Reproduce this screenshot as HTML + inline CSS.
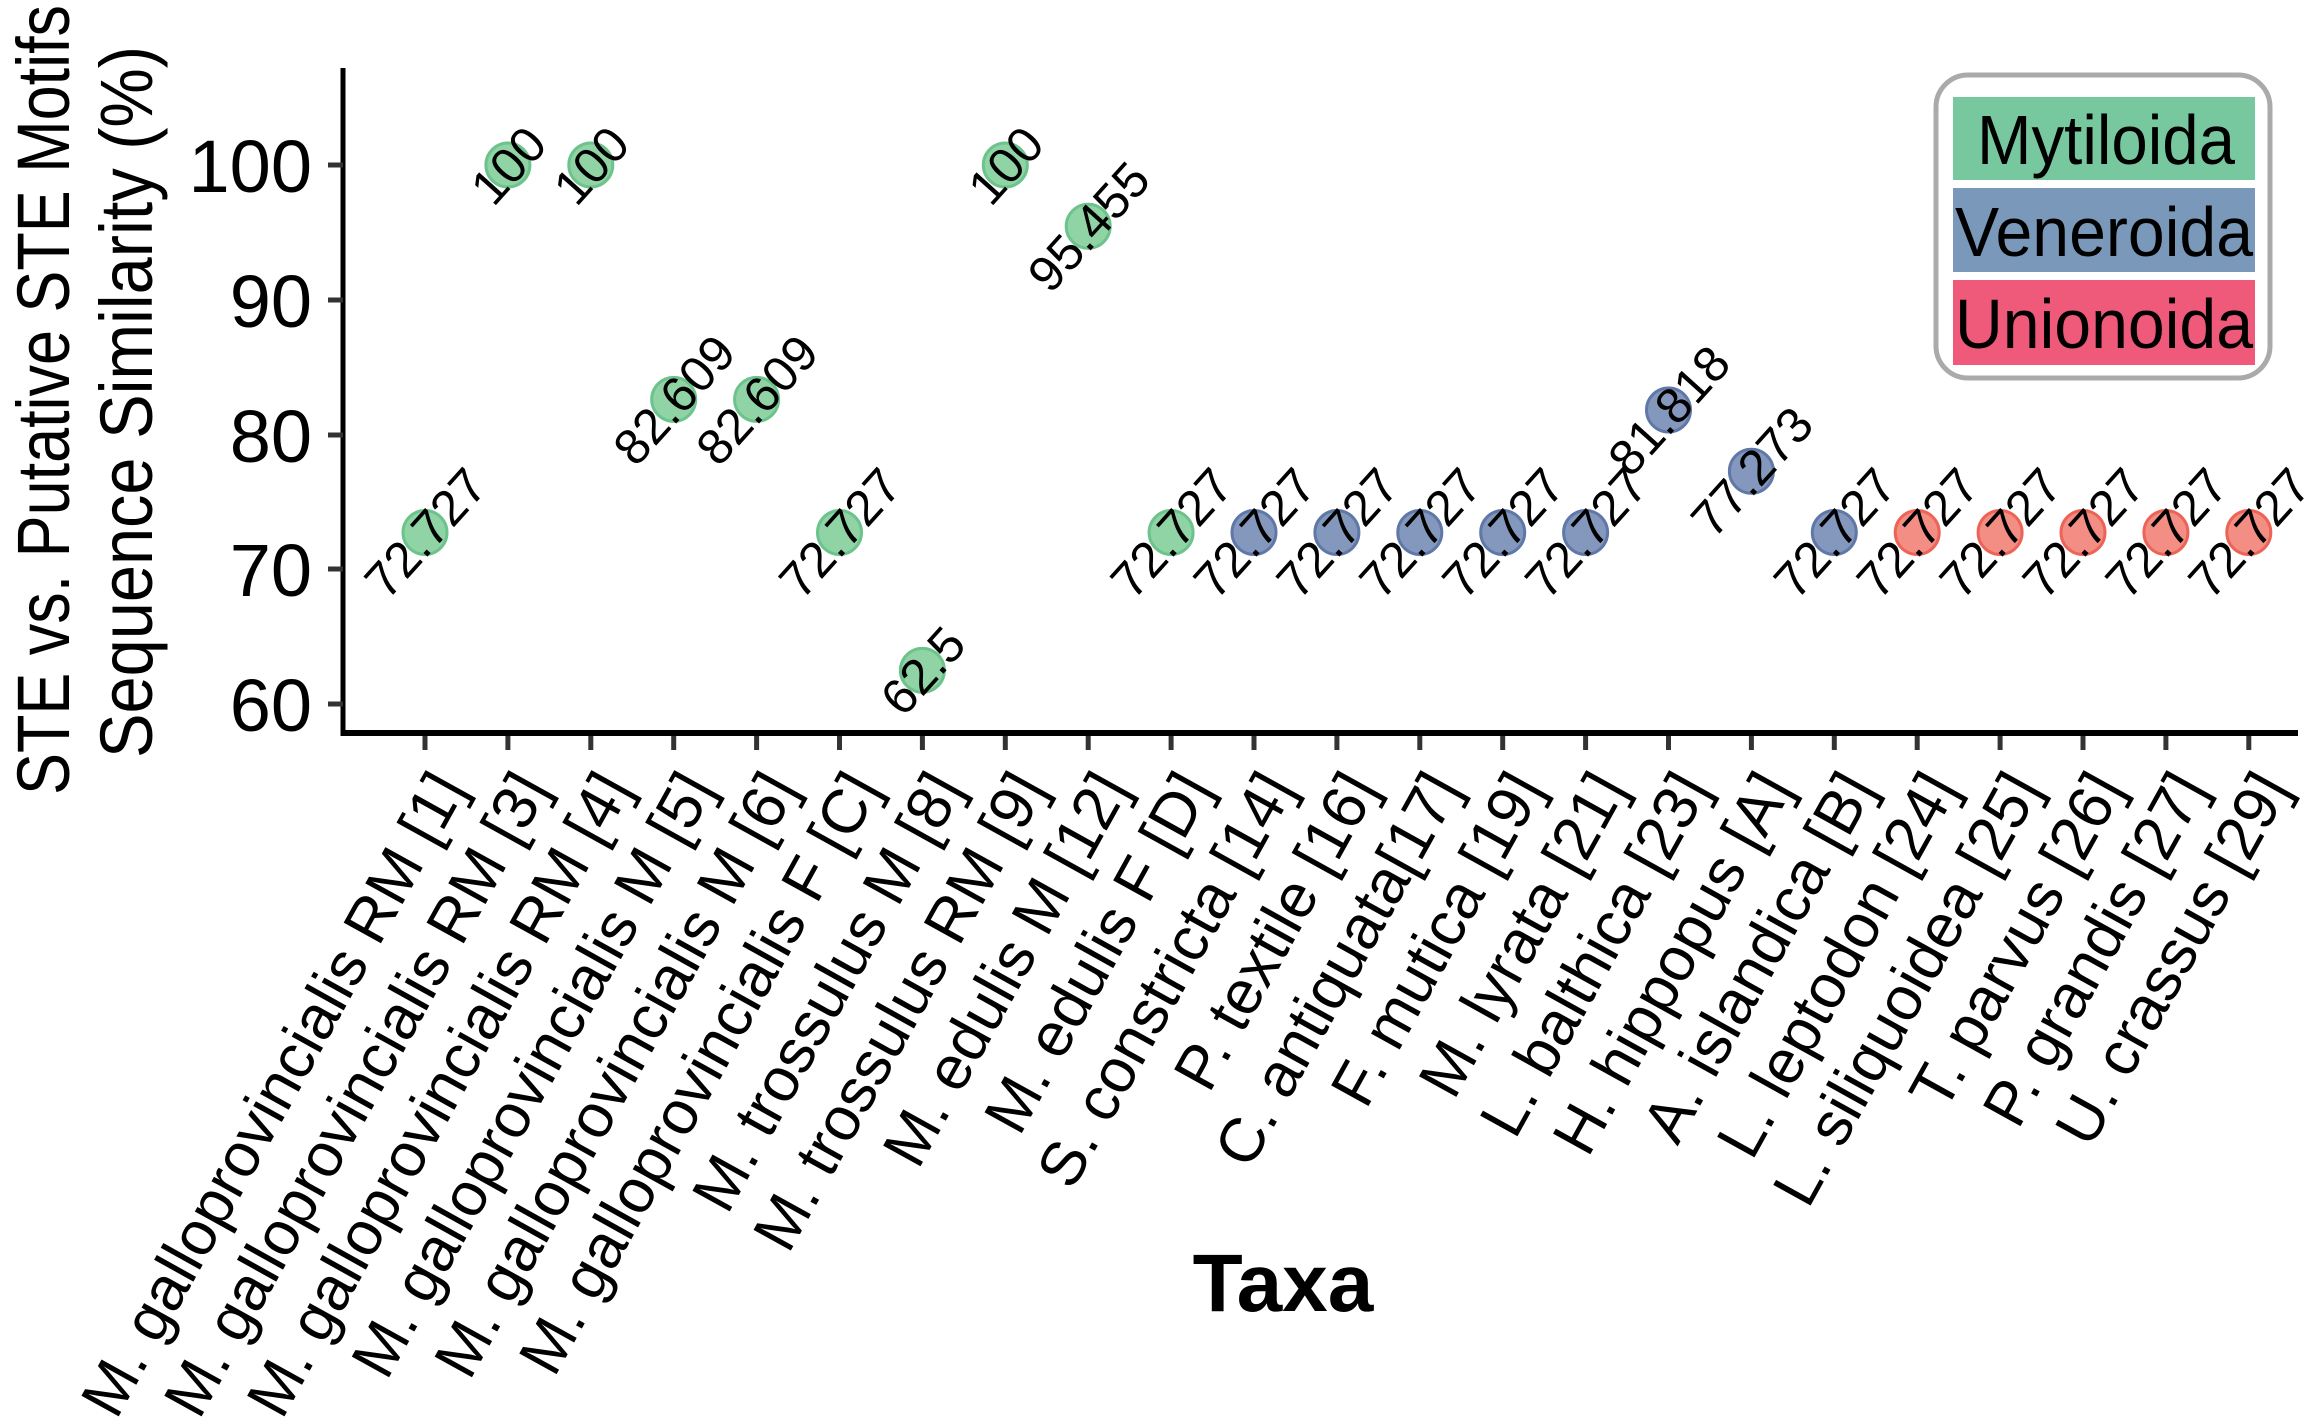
<!DOCTYPE html>
<html><head><meta charset="utf-8"><style>
html,body{margin:0;padding:0;background:#fff;}
svg{display:block;font-family:"Liberation Sans",Arial,sans-serif;}
</style></head><body>
<svg width="2324" height="1419" viewBox="0 0 2324 1419" xmlns="http://www.w3.org/2000/svg">
<rect width="2324" height="1419" fill="#fff"/>
<line x1="343" y1="68" x2="343" y2="736" stroke="#000" stroke-width="5"/>
<line x1="341" y1="733" x2="2298" y2="733" stroke="#000" stroke-width="6"/>
<g stroke="#333" stroke-width="5">
<line x1="328" y1="165" x2="343" y2="165"/><line x1="328" y1="300" x2="343" y2="300"/>
<line x1="328" y1="435" x2="343" y2="435"/><line x1="328" y1="569" x2="343" y2="569"/>
<line x1="328" y1="704" x2="343" y2="704"/>
</g>
<g font-size="74" text-anchor="end" fill="#000">
<text x="312" y="192">100</text><text x="312" y="327">90</text><text x="312" y="462">80</text><text x="312" y="596">70</text><text x="312" y="731">60</text>
</g>
<g font-size="74" text-anchor="middle" fill="#000">
<text transform="translate(69,400) rotate(-90)" textLength="790" lengthAdjust="spacingAndGlyphs">STE vs. Putative STE Motifs</text>
<text transform="translate(152,402) rotate(-90)" textLength="712" lengthAdjust="spacingAndGlyphs">Sequence Similarity (%)</text>
</g>
<g id="xt" stroke="#333" stroke-width="5"></g>
<g id="pts"></g>
<g id="xl" font-size="62" text-anchor="end" fill="#000"></g>
<text x="1283" y="1311" font-size="82" font-weight="bold" text-anchor="middle">Taxa</text>
<rect x="1936" y="75" width="334" height="303" rx="32" fill="#fff" stroke="#aaa" stroke-width="5"/>
<rect x="1953" y="97" width="302" height="83" fill="#78c89f"/>
<rect x="1953" y="188" width="302" height="84" fill="#7a98b9"/>
<rect x="1953" y="280" width="302" height="85" fill="#ef5a7b"/>
<g font-size="70" text-anchor="middle" fill="#000">
<text x="2106" y="164" textLength="258" lengthAdjust="spacingAndGlyphs">Mytiloida</text>
<text x="2104" y="256" textLength="298" lengthAdjust="spacingAndGlyphs">Veneroida</text>
<text x="2104" y="348" textLength="298" lengthAdjust="spacingAndGlyphs">Unionoida</text>
</g>
<script>
var names=["M. galloprovincialis RM [1]","M. galloprovincialis RM [3]","M. galloprovincialis RM [4]","M. galloprovincialis M [5]","M. galloprovincialis M [6]","M. galloprovincialis F [C]","M. trossulus M [8]","M. trossulus RM [9]","M. edulis M [12]","M. edulis F [D]","S. constricta [14]","P. textile [16]","C. antiquata[17]","F. mutica [19]","M. lyrata [21]","L. balthica [23]","H. hippopus [A]","A. islandica [B]","L. leptodon [24]","L. siliquoidea [25]","T. parvus [26]","P. grandis [27]","U. crassus [29]"];
var vals=[72.727,100,100,82.609,82.609,72.727,62.5,100,95.455,72.727,72.727,72.727,72.727,72.727,72.727,81.818,77.273,72.727,72.727,72.727,72.727,72.727,72.727];
var labs=["72.727","100","100","82.609","82.609","72.727","62.5","100","95.455","72.727","72.727","72.727","72.727","72.727","72.727","81.818","77.273","72.727","72.727","72.727","72.727","72.727","72.727"];
var ns="http://www.w3.org/2000/svg";
var xt=document.getElementById("xt"),pts=document.getElementById("pts"),xl=document.getElementById("xl");
for(var i=0;i<23;i++){
 var x=425+i*82.9;
 var l=document.createElementNS(ns,"line");l.setAttribute("x1",x);l.setAttribute("x2",x);l.setAttribute("y1",736);l.setAttribute("y2",750);xt.appendChild(l);
 var y=165+(100-vals[i])*13.475;
 var f,s;
 if(i<10){f="#7dcb95";s="#6cc38c";}else if(i<18){f="#6f86b2";s="#5f78a8";}else{f="#f07a6d";s="#ee6357";}
 var c=document.createElementNS(ns,"circle");c.setAttribute("cx",x);c.setAttribute("cy",y);c.setAttribute("r",22);c.setAttribute("fill",f);c.setAttribute("fill-opacity","0.85");c.setAttribute("stroke",s);c.setAttribute("stroke-width","3");pts.appendChild(c);
 var t=document.createElementNS(ns,"text");t.setAttribute("transform","translate("+x+","+y+") rotate(-48)");t.setAttribute("text-anchor","middle");t.setAttribute("dy","0.36em");t.setAttribute("font-size","50");t.textContent=labs[i];pts.appendChild(t);
 var u=document.createElementNS(ns,"text");u.setAttribute("transform","translate("+(x+42)+",788) rotate(-61)");u.textContent=names[i];xl.appendChild(u);
}
</script>
</svg>
</body></html>
